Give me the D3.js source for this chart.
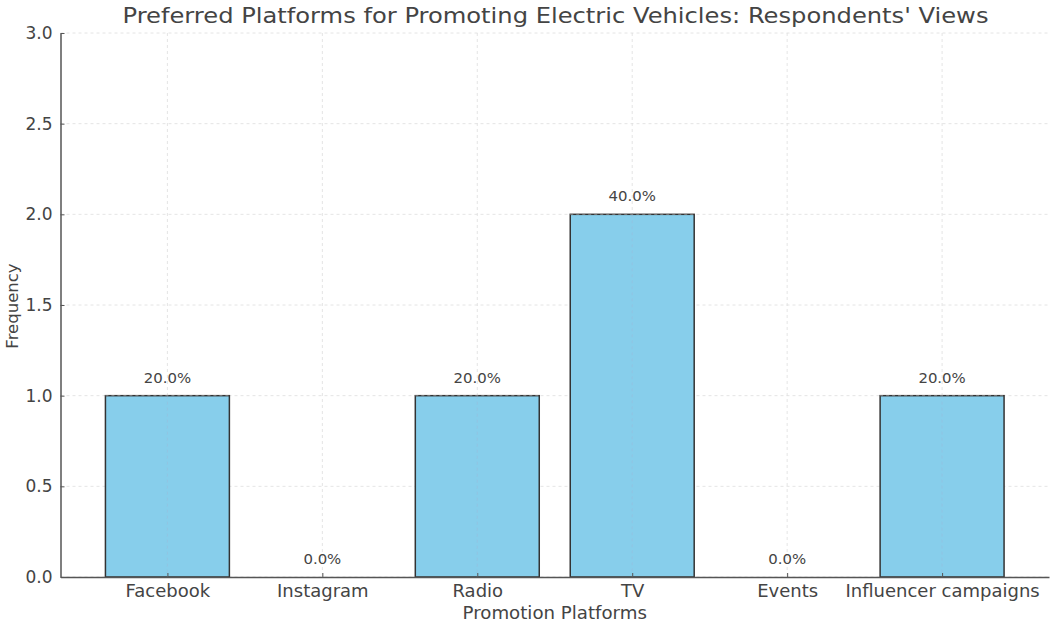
<!DOCTYPE html>
<html><head><meta charset="utf-8">
<script src="https://cdn.jsdelivr.net/npm/d3@7"></script>
<style>body{margin:0;background:#fff}svg{display:block}text{font-family:"DejaVu Sans",sans-serif}</style>
</head><body><svg id="c" width="1050" height="625"></svg>
<script>
const categories = ["Facebook","Instagram","Radio","TV","Events","Influencer campaigns"];
const frequencies = [1,0,1,2,0,1];
const percentLabels = ["20.0%","0.0%","20.0%","40.0%","0.0%","20.0%"];
const yTicks = [0,0.5,1.0,1.5,2.0,2.5,3.0];

const svg = d3.select("#c");
const L=60.5, R=1049, T=33, B=577;
const x = d3.scaleLinear().domain([-0.69, categories.length-1+0.69]).range([L,R]);
const y = d3.scaleLinear().domain([0,3]).range([B,T]);
const ink="#444";

// grid
const g = svg.append("g");
g.selectAll(".gx").data(categories).join("line")
 .attr("x1",(d,i)=>x(i)).attr("x2",(d,i)=>x(i)).attr("y1",T).attr("y2",B)
 .attr("stroke","#ddd").attr("stroke-dasharray","3,3").attr("stroke-width",0.8);
g.selectAll(".gy").data(yTicks).join("line")
 .attr("x1",L).attr("x2",R).attr("y1",d=>y(d)).attr("y2",d=>y(d))
 .attr("stroke","#ddd").attr("stroke-dasharray","3,3").attr("stroke-width",0.8);

// bars
const bw = x(0.4)-x(-0.4);
svg.selectAll(".bar").data(frequencies).join("rect")
 .attr("x",(d,i)=>x(i)-bw/2).attr("width",bw)
 .attr("y",d=>y(d)).attr("height",d=>B-y(d))
 .attr("fill","#87CEEB").attr("stroke","#333").attr("stroke-width",1.5)
 .attr("display",d=>d>0?null:"none");

svg.selectAll(".gxo").data(frequencies).join("line")
 .attr("x1",(d,i)=>x(i)).attr("x2",(d,i)=>x(i)).attr("y1",d=>y(d)).attr("y2",B)
 .attr("stroke","#aac").attr("stroke-opacity",0.35).attr("stroke-dasharray","3,3").attr("stroke-width",0.8);
svg.selectAll(".gyo").data(frequencies).join("line")
 .attr("x1",(d,i)=>x(i)-bw/2).attr("x2",(d,i)=>x(i)+bw/2).attr("y1",d=>y(d)).attr("y2",d=>y(d))
 .attr("stroke","#ccc").attr("stroke-opacity",0.6).attr("stroke-dasharray","3,3").attr("stroke-width",0.8)
 .attr("display",d=>d>0?null:"none");

// labels
svg.selectAll(".lab").data(percentLabels).join("text")
 .attr("transform",(d,i)=>`translate(${x(i)},${y(frequencies[i])-13}) scale(1.03,1)`)
 .attr("text-anchor","middle").attr("font-size",14.5).attr("fill",ink).text(d=>d);

// axes
const ya = svg.append("g").attr("transform",`translate(${L},0)`)
 .call(d3.axisLeft(y).tickValues(yTicks).tickFormat(d3.format(".1f")).tickSizeInner(-4).tickSizeOuter(0).tickPadding(8));
ya.select(".domain").attr("stroke","#555").attr("stroke-width",1.5);
ya.selectAll(".tick line").attr("stroke","#555");
ya.selectAll("text").attr("font-size",17).attr("fill",ink).attr("font-family","DejaVu Sans");

const xa = svg.append("g").attr("transform",`translate(0,${B})`)
 .call(d3.axisBottom(x).tickValues(d3.range(categories.length)).tickFormat(i=>categories[i]).tickSizeInner(-4).tickSizeOuter(0).tickPadding(8));
xa.select(".domain").attr("stroke","#555").attr("stroke-width",1.5);
xa.selectAll(".tick line").attr("stroke","#555");
xa.selectAll("text").attr("font-size",17).attr("fill",ink).attr("font-family","DejaVu Sans")
 .attr("transform","scale(1.06,1)");

svg.append("text").attr("transform","translate(555.5,23) scale(1.1,1)").attr("text-anchor","middle")
 .attr("font-size",22).attr("fill",ink).text("Preferred Platforms for Promoting Electric Vehicles: Respondents' Views");
svg.append("text").attr("transform",`translate(${(L+R)/2},619) scale(1.07,1)`).attr("text-anchor","middle")
 .attr("font-size",17).attr("fill",ink).text("Promotion Platforms");
svg.append("text").attr("transform","translate(18,306) rotate(-90)").attr("text-anchor","middle")
 .attr("font-size",16.5).attr("fill",ink).text("Frequency");
</script></body></html>
